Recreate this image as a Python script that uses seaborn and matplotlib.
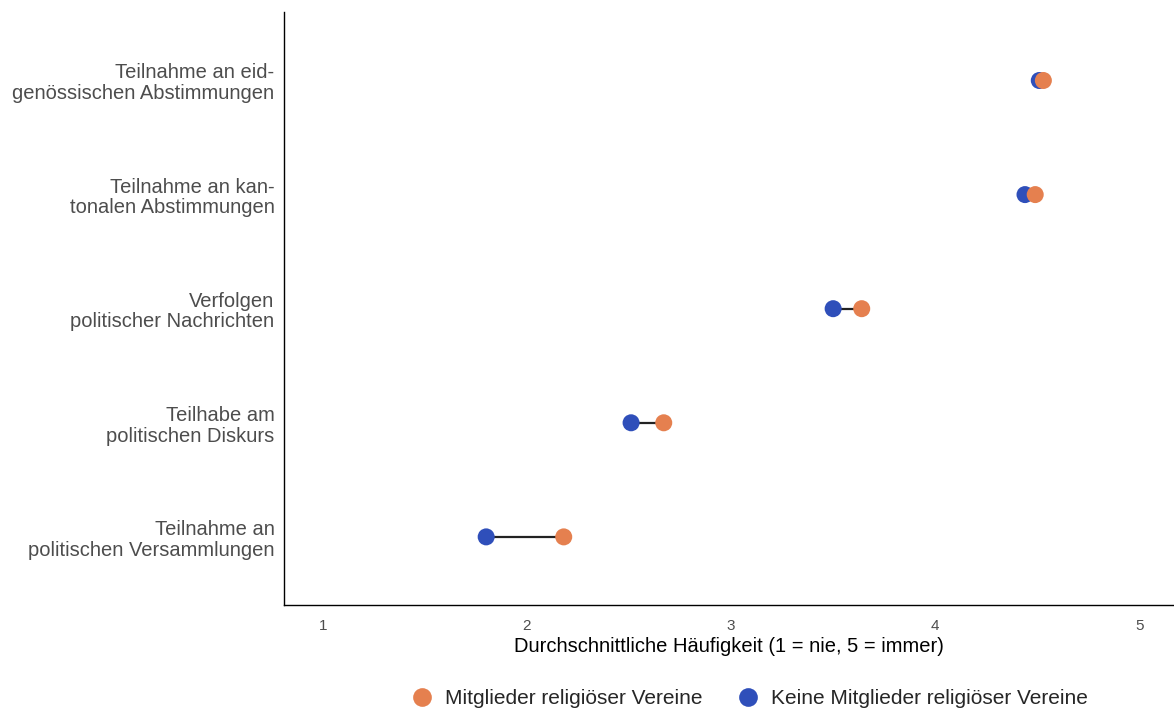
import numpy as np
import pandas as pd
import seaborn as sns
import matplotlib.pyplot as plt

# rows from top to bottom
items = [
    "Teilnahme an eid-\ngenössischen Abstimmungen",
    "Teilnahme an kan-\ntonalen Abstimmungen",
    "Verfolgen\npolitischer Nachrichten",
    "Teilhabe am\npolitischen Diskurs",
    "Teilnahme an\npolitischen Versammlungen",
]
mitglieder = [4.53, 4.49, 3.64, 2.67, 2.18]
keine = [4.51, 4.44, 3.50, 2.51, 1.80]

lab_m = "Mitglieder religiöser Vereine"
lab_k = "Keine Mitglieder religiöser Vereine"
colors = {lab_m: "#E5804F", lab_k: "#2F4FBA"}

sns.set_theme(style="white")
plt.rcParams["font.family"] = ["Liberation Sans", "DejaVu Sans"]

# plot bottom row first so it ends up at the bottom
order = items[::-1]
df = pd.DataFrame({
    "item": order * 2,
    "wert": keine[::-1] + mitglieder[::-1],
    "gruppe": [lab_k] * len(items) + [lab_m] * len(items),
})

fig, ax = plt.subplots(figsize=(11.74, 7.08), dpi=100)
fig.subplots_adjust(left=0.242, right=1.0, top=0.983, bottom=0.145)

ax.hlines(y=order, xmin=keine[::-1], xmax=mitglieder[::-1],
          color="#222222", linewidth=1.6, zorder=1)
sns.scatterplot(data=df, x="wert", y="item", hue="gruppe",
                hue_order=[lab_m, lab_k], palette=colors, s=150,
                linewidth=0, alpha=1, ax=ax, zorder=2)

ax.set_xlim(0.81, 5.17)
ax.set_ylim(-0.6, 4.6)
ax.set_xticks([1, 2, 3, 4, 5])
ax.tick_params(axis="x", labelsize=11, colors="#4d4d4d", length=0, pad=10)
ax.tick_params(axis="y", labelsize=14.5, colors="#4d4d4d", length=0, pad=7)
ax.set_xlabel("Durchschnittliche Häufigkeit (1 = nie, 5 = immer)",
              fontsize=14.5, color="black", labelpad=3)
ax.set_ylabel("")
for lbl in ax.get_yticklabels():
    lbl.set_multialignment("right")
    lbl.set_linespacing(1.12)

for side in ["top", "right"]:
    ax.spines[side].set_visible(False)
for side in ["left", "bottom"]:
    ax.spines[side].set_color("black")
    ax.spines[side].set_linewidth(1.0)

handles, labels = ax.get_legend_handles_labels()
ax.legend_.remove()
fig.legend(handles, labels, loc="center", bbox_to_anchor=(0.634, 0.013),
           ncol=2, frameon=False, fontsize=15, markerscale=1.1,
           handletextpad=0.1, columnspacing=1.2)

plt.savefig("out.png", dpi=100)
